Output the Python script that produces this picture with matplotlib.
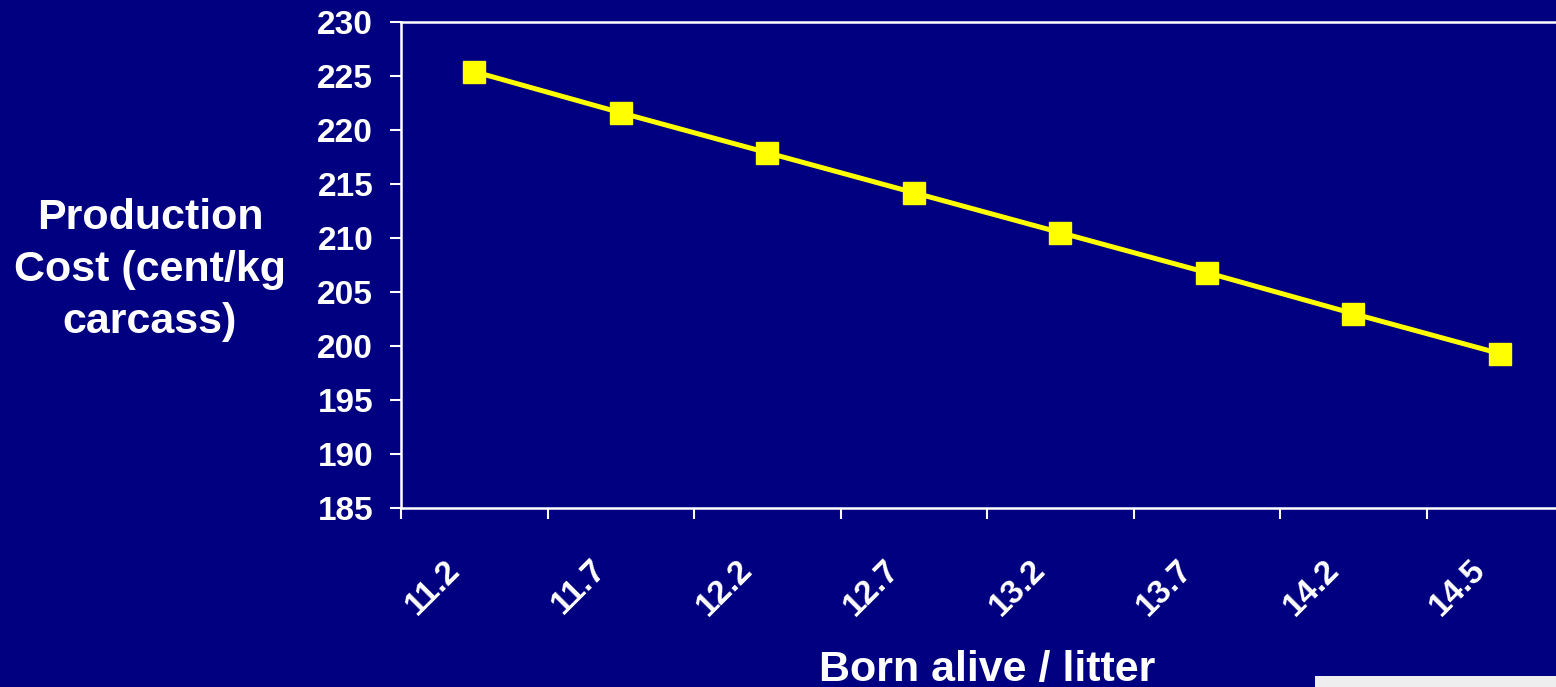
import matplotlib
matplotlib.use('Agg')
import matplotlib.pyplot as plt
import matplotlib.transforms as mtransforms
import numpy as np
from matplotlib.patches import Rectangle

# ── Data ───────────────────────────────────────────────────────────────────────
BORN_ALIVE = ['11.2', '11.7', '12.2', '12.7', '13.2', '13.7', '14.2', '14.5']
COST       = [225.4, 221.6, 217.9, 214.2, 210.5, 206.8, 203.0, 199.3]
Y_TICKS    = [185, 190, 195, 200, 205, 210, 215, 220, 225, 230]

NAVY   = '#000080'
YELLOW = '#ffff00'

plt.rcParams['font.family'] = ['Liberation Sans', 'DejaVu Sans']
plt.rcParams['font.weight'] = 'bold'

W, H = 1556, 687
fig = plt.figure(figsize=(W / 100, H / 100), dpi=100, facecolor=NAVY)
ax = fig.add_axes([401 / W, 1 - 508 / H, (1573 - 401) / W, (508 - 22) / H])
ax.set_facecolor(NAVY)

x = np.arange(len(BORN_ALIVE))
ax.plot(x, COST, color=YELLOW, lw=3.6, marker='s', ms=15.5,
        mfc=YELLOW, mec=YELLOW, zorder=3, clip_on=False)

ax.set_xlim(-0.5, len(BORN_ALIVE) - 0.5)
ax.set_ylim(185, 230)
ax.set_yticks(Y_TICKS)
ax.set_yticklabels([str(v) for v in Y_TICKS], fontsize=24, fontweight='bold',
                   color='white')

# category boundary ticks, labels at the centres
ax.set_xticks(np.arange(len(BORN_ALIVE) + 1) - 0.5)
ax.set_xticklabels([])
ax.set_xticks(x, minor=True)
ax.set_xticklabels(BORN_ALIVE, minor=True, rotation=45, ha='right', va='center',
                   rotation_mode='anchor', fontsize=24, fontweight='bold',
                   color='white')
ax.tick_params(axis='x', which='minor', length=0, pad=41)
ax.tick_params(axis='x', which='major', length=8, width=1.5, color='white')
ax.tick_params(axis='y', length=8, width=1.5, color='white', pad=12)

shift = mtransforms.ScaledTranslation(-19 / 100, 0, fig.dpi_scale_trans)
for lab in ax.get_xticklabels(minor=True):
    lab.set_transform(lab.get_transform() + shift)

for side in ['left', 'bottom', 'top']:
    ax.spines[side].set_color('white')
    ax.spines[side].set_linewidth(1.8)
ax.spines['right'].set_visible(False)

fig.text(150 / W, 1 - 270 / H, 'Production\nCost (cent/kg\ncarcass)',
         ha='center', va='center', fontsize=31, fontweight='bold',
         color='white', linespacing=1.38)
fig.text(987 / W, 1 - 670 / H, 'Born alive / litter', ha='center', va='center',
         fontsize=31, fontweight='bold', color='white')

# light strip at the lower right corner
fig.patches.append(Rectangle((1315 / W, 0), (W - 1315) / W, 11 / H,
                             transform=fig.transFigure, facecolor='#eeeeee',
                             edgecolor='none'))

fig.savefig('out.png', dpi=100, facecolor=NAVY)
